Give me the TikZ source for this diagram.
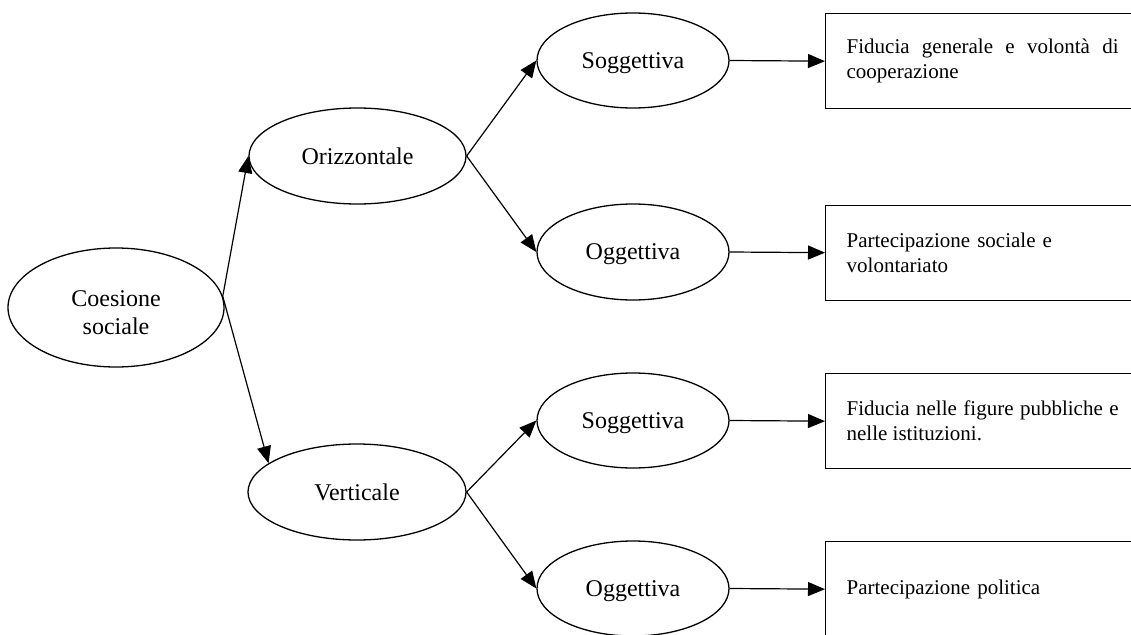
\documentclass[tikz,border=0pt]{standalone}
\usepackage{fontspec}
\setmainfont{Liberation Serif}
\usetikzlibrary{shapes.geometric,arrows.meta}
% paragraph settings for the indicator boxes: no hyphenation, loose justification
\newcommand{\boxtextsetup}{\fontsize{21}{25}\selectfont
  \hyphenpenalty=10000\relax\exhyphenpenalty=10000\relax\tolerance=10000\relax}
\begin{document}
\begin{tikzpicture}[x=1pt,y=-1pt,
  oval/.style={ellipse,draw,line width=1.3pt,inner sep=0pt,align=center,
    text depth=0pt,font=\fontsize{24}{28}\selectfont},
  info/.style={rectangle,draw,line width=1.3pt,anchor=north west,
    minimum height=95pt,text width=272pt,inner xsep=21pt,
    font=\boxtextsetup},
  link/.style={line width=1.2pt,-{Triangle[length=17pt,width=14pt]}}]
\useasboundingbox (0,0) rectangle (1131,634);
\clip (0,0) rectangle (1131,634);

% root and the two dimensions
\node[oval,minimum width=216pt,minimum height=119pt,text height=53pt] (coes) at (116,307.5) {Coesione\\sociale};
\node[oval,minimum width=217pt,minimum height=96pt] (oriz) at (357.5,156) {Orizzontale};
\node[oval,minimum width=218pt,minimum height=96pt] (vert) at (357,492) {Verticale};

% subjective / objective components
\node[oval,minimum width=192pt,minimum height=95pt] (sogA) at (633,60.5) {Soggettiva};
\node[oval,minimum width=192pt,minimum height=96pt] (oggA) at (633,252) {Oggettiva};
\node[oval,minimum width=192pt,minimum height=95pt] (sogB) at (633,420.5) {Soggettiva};
\node[oval,minimum width=192pt,minimum height=95pt] (oggB) at (633,588.5) {Oggettiva};

% indicators
\node[info,align=justify] (fidA) at (825,13)
  {Fiducia generale e volontà di cooperazione};
\node[info,align=left] (parA) at (825,204.5)
  {Partecipazione sociale e volontariato};
\node[info,align=justify] (fidB) at (825,373)
  {Fiducia nelle figure pubbliche e nelle istituzioni.};
\node[info,align=left] (parB) at (825,541)
  {Partecipazione politica};

% connectors
\draw[link] (coes.6) -- (oriz.west);
\draw[link] (coes.6) -- (vert.162);
\draw[link] (oriz.east) -- (sogA.west);
\draw[link] (oriz.east) -- (oggA.west);
\draw[link] (vert.east) -- (sogB.west);
\draw[link] (vert.east) -- (oggB.west);
\draw[link] (sogA.east) -- (fidA.west);
\draw[link] (oggA.east) -- (parA.west);
\draw[link] (sogB.east) -- (fidB.west);
\draw[link] (oggB.east) -- (parB.west);
\end{tikzpicture}
\end{document}
